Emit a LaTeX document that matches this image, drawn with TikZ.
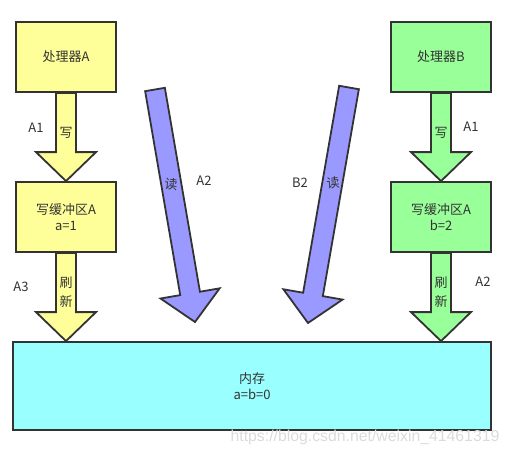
\documentclass[tikz,border=0pt]{standalone}
\usepackage{xcolor}
\usepackage{fontspec}
\setmainfont{Noto Sans CJK SC}
\newfontfamily\markfont{Liberation Sans}
\usepackage{tikz}
\usetikzlibrary{calc}
\definecolor{edge}{HTML}{333333}
\definecolor{cpuA}{HTML}{FFFF99}
\definecolor{cpuB}{HTML}{99FF99}
\definecolor{readc}{HTML}{9999FF}
\definecolor{memc}{HTML}{99FFFF}
\tikzset{
  box/.style={draw=edge, line width=1.8pt, minimum width=100pt, minimum height=70pt,
    align=center, text=edge, font=\fontsize{13}{15.5}\selectfont},
  arrowbody/.style={draw=edge, line width=1.8pt, line join=miter},
  lbl/.style={text=edge, align=center, font=\fontsize{13}{19}\selectfont},
}
\newcommand{\blockarrow}[3]{%
  \coordinate (hd) at ($(#2)!29pt!(#1)$);
  \filldraw[arrowbody, fill=#3] ($(#1)!10pt!90:(#2)$) -- ($(hd)!10pt!90:(#2)$)
    -- ($(hd)!30pt!90:(#2)$) -- (#2) -- ($(hd)!30pt!-90:(#2)$)
    -- ($(hd)!10pt!-90:(#2)$) -- ($(#1)!10pt!-90:(#2)$) -- cycle;}

\begin{document}
\begin{tikzpicture}[x=1pt,y=-1pt]
\useasboundingbox (0,0) rectangle (511,455);
%\draw[-,color=black,dashed] (0,0) grid[step=50] (511,455);
\node[box, fill=cpuA] (pa) at (66,57) {处理器A};
\node[box, fill=cpuA] (ba) at (66,217) {写缓冲区A\\a=1};
\node[box, fill=cpuB] (pb) at (441,57) {处理器B};
\node[box, fill=cpuB] (bb) at (441,217) {写缓冲区A\\b=2};
\node[box, fill=memc, minimum width=478pt, minimum height=88pt] (mem) at (252,386) {内存\\a=b=0};
\coordinate (ma) at (mem.north -| ba.south);
\coordinate (mb) at (mem.north -| bb.south);
\coordinate (ra1) at (155,89.5);
\coordinate (ra2) at (195,322);
\coordinate (rb1) at (349,87.5);
\coordinate (rb2) at (308,323);
\blockarrow{pa.south}{ba.north}{cpuA}
\blockarrow{ba.south}{ma}{cpuA}
\blockarrow{pb.south}{bb.north}{cpuB}
\blockarrow{bb.south}{mb}{cpuB}
\blockarrow{ra1}{ra2}{readc}
\blockarrow{rb1}{rb2}{readc}
\node[lbl] (a1) at (36,128) {A1};
\node[lbl] (wa) at (66,133) {写};
\node[lbl] (a3) at (21,287) {A3};
\node[lbl] (fa) at (66,292) {刷\\新};
\node[lbl] (b1) at (471,127) {A1};
\node[lbl] (wb) at (441,133) {写};
\node[lbl] (b2) at (483,282) {A2};
\node[lbl] (fb) at (441,292) {刷\\新};
\node[lbl, rotate=-6] (rda) at (171,184) {读};
\node[lbl] (a2) at (204,181) {A2};
\node[lbl] (bb2) at (300,183) {B2};
\node[lbl, rotate=6] (rdb) at (333,183) {读};
%watermark
\node[text=gray!28, font=\markfont\fontsize{15.8}{18}\selectfont] (wm) at (365,437) {https://blog.csdn.net/weixin\_41461319};
\end{tikzpicture}
\end{document}
